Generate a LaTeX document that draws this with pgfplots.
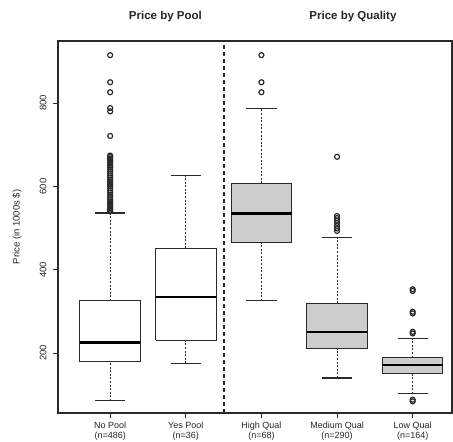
\documentclass[border=0pt]{standalone}
\usepackage{pgfplots}
\pgfplotsset{compat=1.18}
\usepackage{fontspec}
\setmainfont{Liberation Sans}
\definecolor{boxgray}{HTML}{CDCDCD}
\definecolor{edge}{HTML}{2A2A2A}
\pgfplotsset{
  whisk/.style={edge, line width=0.9pt, dash pattern=on 2pt off 1.6pt, mark=none},
  cap/.style={edge, line width=1.1pt, mark=none},
  bx/.style={draw=edge, line width=1.1pt, mark=none},
  med/.style={black, line width=2.3pt, mark=none},
  outl/.style={only marks, mark=o, mark size=2.5pt, mark options={edge, line width=1.2pt, solid}},
}
\begin{document}
\begin{tikzpicture}
\begin{axis}[
  scale only axis, width=394pt, height=372pt,
  xmin=0.31, xmax=5.52, ymin=56, ymax=949,
  xtick={1,2,3,4,5},
  xticklabels={{No Pool\\(n=486)},{Yes Pool\\(n=36)},{High Qual\\(n=68)},{Medium Qual\\(n=290)},{Low Qual\\(n=164)}},
  xticklabel style={align=center, font=\fontsize{9}{10}\selectfont, text=black!85},
  ytick={200,400,600,800},
  yticklabel style={xshift=-3pt, rotate=90, font=\fontsize{9.5}{10}\selectfont, text=black!85},
  /pgf/number format/assume math mode=true,
  tick align=outside, tick pos=left, major tick length=5pt,
  tick style={edge, line width=1pt},
  ylabel={Price (in 1000s \$)},
  every axis y label/.style={at={(rel axis cs:0,0.5)}, xshift=-41pt, rotate=90, anchor=center},
  ylabel style={font=\fontsize{9.5}{10}\selectfont, text=black!85},
  axis line style={edge, line width=1.2pt},
  clip=false,
]
% ---------- No Pool (pos 1)
\addplot[whisk] coordinates {(1,85)(1,179)};
\addplot[whisk] coordinates {(1,325)(1,536)};
\addplot[cap] coordinates {(0.8,85)(1.2,85)};
\addplot[cap] coordinates {(0.8,536)(1.2,536)};
\addplot[bx, fill=white] coordinates {(0.6,179)(1.4,179)(1.4,325)(0.6,325)(0.6,179)};
\addplot[med] coordinates {(0.6,225)(1.4,225)};
\addplot[outl] coordinates {(1,540)(1,544)(1,548)(1,552)(1,556)(1,560)(1,564)(1,569)(1,574)(1,579)(1,585)(1,590)(1,595)(1,600)(1,604)(1,608)(1,612)(1,616)(1,621)(1,626)(1,631)(1,636)(1,641)(1,646)(1,650)(1,655)(1,659)(1,663)(1,667)(1,671)(1,674)(1,721)(1,780)(1,788)(1,826)(1,850)(1,915)};
% ---------- Yes Pool (pos 2)
\addplot[whisk] coordinates {(2,175)(2,231)};
\addplot[whisk] coordinates {(2,451)(2,626)};
\addplot[cap] coordinates {(1.8,175)(2.2,175)};
\addplot[cap] coordinates {(1.8,626)(2.2,626)};
\addplot[bx, fill=white] coordinates {(1.6,231)(2.4,231)(2.4,451)(1.6,451)(1.6,231)};
\addplot[med] coordinates {(1.6,335)(2.4,335)};
% ---------- High Qual (pos 3)
\addplot[whisk] coordinates {(3,325)(3,465)};
\addplot[whisk] coordinates {(3,607)(3,786)};
\addplot[cap] coordinates {(2.8,325)(3.2,325)};
\addplot[cap] coordinates {(2.8,786)(3.2,786)};
\addplot[bx, fill=boxgray] coordinates {(2.6,465)(3.4,465)(3.4,607)(2.6,607)(2.6,465)};
\addplot[med] coordinates {(2.6,535)(3.4,535)};
\addplot[outl] coordinates {(3,826)(3,850)(3,915)};
% ---------- Medium Qual (pos 4)
\addplot[whisk] coordinates {(4,140)(4,210)};
\addplot[whisk] coordinates {(4,319)(4,477)};
\addplot[cap] coordinates {(3.8,140)(4.2,140)};
\addplot[cap] coordinates {(3.8,477)(4.2,477)};
\addplot[bx, fill=boxgray] coordinates {(3.6,210)(4.4,210)(4.4,319)(3.6,319)(3.6,210)};
\addplot[med] coordinates {(3.6,251)(4.4,251)};
\addplot[outl] coordinates {(4,493)(4,499)(4,505)(4,512)(4,518)(4,524)(4,529)(4,671)};
% ---------- Low Qual (pos 5)
\addplot[whisk] coordinates {(5,102)(5,151)};
\addplot[whisk] coordinates {(5,189)(5,234)};
\addplot[cap] coordinates {(4.8,102)(5.2,102)};
\addplot[cap] coordinates {(4.8,234)(5.2,234)};
\addplot[bx, fill=boxgray] coordinates {(4.6,151)(5.4,151)(5.4,189)(4.6,189)(4.6,151)};
\addplot[med] coordinates {(4.6,171)(5.4,171)};
\addplot[outl] coordinates {(5,84)(5,88)(5,247)(5,251)(5,295)(5,299)(5,349)(5,353)};
% ---------- separator
\addplot[edge, line width=2pt, dash pattern=on 4pt off 3pt, mark=none] coordinates {(2.5,56) (2.5,949)};

\node[font=\bfseries\fontsize{11.5}{13}\selectfont, text=black!85] at (rel axis cs:0.2726,1.0645) {Price by Pool};
\node[font=\bfseries\fontsize{11.5}{13}\selectfont, text=black!85] at (rel axis cs:0.7486,1.0645) {Price by Quality};
\coordinate (ll) at (rel axis cs:0,0);
\coordinate (ur) at (rel axis cs:1,1);
\end{axis}
\pgfresetboundingbox
\useasboundingbox ([shift={(-58pt,-28pt)}]ll) rectangle ([shift={(1pt,41pt)}]ur);
\end{tikzpicture}
\end{document}
